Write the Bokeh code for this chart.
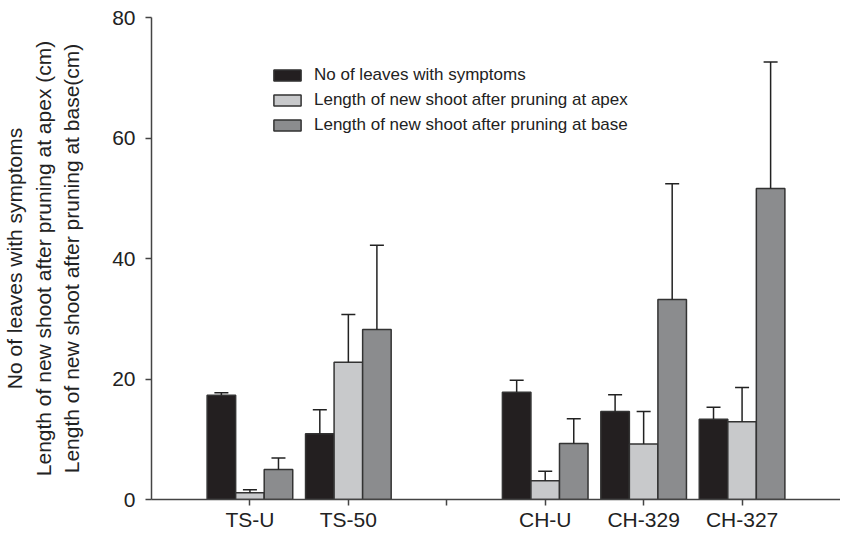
import numpy as np
from bokeh.plotting import figure
from bokeh.models import (ColumnDataSource, Whisker, TeeHead, FixedTicker, Range1d,
                          Legend, LegendItem)
from bokeh.embed import file_html
from bokeh.resources import INLINE

# ---- data ----
tick_labels = ["TS-U", "TS-50", "", "CH-U", "CH-329", "CH-327"]
series_names = ["No of leaves with symptoms",
                "Length of new shoot after pruning at apex",
                "Length of new shoot after pruning at base"]
leaves_mean = [17.3, 10.9, 17.8, 14.6, 13.3]
leaves_err = [0.4, 4.0, 2.0, 2.8, 2.0]
apex_mean = [1.1, 22.8, 3.1, 9.2, 12.9]
apex_err = [0.5, 7.9, 1.6, 5.4, 5.7]
base_mean = [5.0, 28.2, 9.3, 33.2, 51.6]
base_err = [1.9, 14.0, 4.1, 19.2, 21.0]
y_ticks = [0, 20, 40, 60, 80]

FONT = "Liberation Sans"
colors = ["#231f20", "#c8c9cb", "#8b8c8e"]
bar_w = 0.29
offsets = [-bar_w, 0.0, bar_w]

tick_pos = list(range(1, len(tick_labels) + 1))
group_x = np.array([p for p, t in zip(tick_pos, tick_labels) if t], dtype=float)

p = figure(width=840, height=533, output_backend="svg", toolbar_location=None,
           x_range=Range1d(0, len(tick_labels) + 1), y_range=Range1d(0, 80),
           min_border_left=150, min_border_right=0, min_border_top=17,
           min_border_bottom=0)
p.outline_line_color = None
p.grid.visible = False
p.background_fill_color = "white"
p.border_fill_color = "white"

items = []
for name, means, errs, col, off in zip(series_names,
                                       [leaves_mean, apex_mean, base_mean],
                                       [leaves_err, apex_err, base_err],
                                       colors, offsets):
    m = np.array(means)
    e = np.array(errs)
    src = ColumnDataSource(dict(x=group_x + off, top=m, upper=m + e))
    r = p.vbar(x="x", top="top", width=bar_w, bottom=0, source=src,
               fill_color=col, line_color="#333333", line_width=1.5)
    w = Whisker(base="x", lower="top", upper="upper", source=src,
                dimension="height", line_color="#222222", line_width=1.5,
                upper_head=TeeHead(size=14, line_color="#222222", line_width=1.5),
                lower_head=None, level="glyph")
    p.add_layout(w)
    items.append(LegendItem(label=name, renderers=[r]))

legend = Legend(items=items, location=(119, 364), padding=0, margin=0,
                border_line_color=None, background_fill_alpha=0,
                glyph_width=34, glyph_height=14, label_height=20, spacing=5,
                label_standoff=10, label_text_font=FONT,
                label_text_font_size="17px", label_text_color="#222222")
p.add_layout(legend, "center")

# axes
for ax in (p.xaxis[0], p.yaxis[0]):
    ax.axis_line_color = "#444444"
    ax.axis_line_width = 1.5
    ax.major_tick_line_color = "#444444"
    ax.major_tick_line_width = 1.5
    ax.major_tick_out = 6
    ax.major_tick_in = 0
    ax.minor_tick_line_color = None
    ax.major_label_text_font = FONT
    ax.major_label_text_font_size = "21px"
    ax.major_label_text_color = "#222222"

p.xaxis.ticker = FixedTicker(ticks=tick_pos)
p.xaxis.major_label_overrides = {pos: lab for pos, lab in zip(tick_pos, tick_labels)}
p.xaxis.major_label_standoff = 2

p.yaxis.ticker = FixedTicker(ticks=y_ticks)
p.yaxis.major_label_standoff = 10
p.yaxis.axis_label = "\n".join(series_names[:1] + [series_names[1] + " (cm)",
                                                     series_names[2] + "(cm)"])
p.yaxis.axis_label_text_font = FONT
p.yaxis.axis_label_text_font_size = "21px"
p.yaxis.axis_label_text_font_style = "normal"
p.yaxis.axis_label_text_color = "#222222"
p.yaxis.axis_label_text_line_height = 1.24
p.yaxis.axis_label_standoff = 26

open("out.html", "w").write(file_html(p, INLINE))
